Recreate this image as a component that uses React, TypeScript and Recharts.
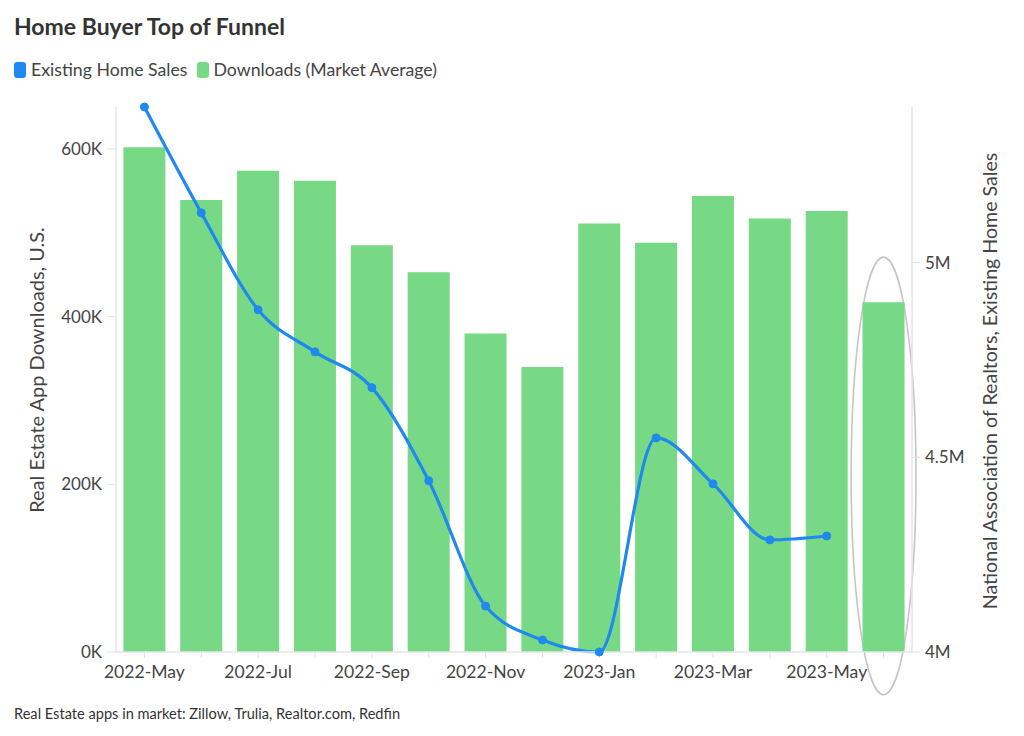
import React from 'react';
import { ComposedChart, Bar, Line, XAxis, YAxis, ReferenceArea } from 'recharts';

const months = [
  '2022-May', '2022-Jun', '2022-Jul', '2022-Aug', '2022-Sep', '2022-Oct', '2022-Nov',
  '2022-Dec', '2023-Jan', '2023-Feb', '2023-Mar', '2023-Apr', '2023-May', '2023-Jun',
];
const downloads = [602000, 539000, 574000, 562000, 485000, 453000, 380000, 340000, 511000, 488000, 544000, 517000, 526000, 417000];
const homeSales = [5400000, 5128000, 4879000, 4771000, 4679000, 4440000, 4118000, 4031000, 4000000, 4550000, 4432000, 4288000, 4298000, null];
const leftTicks = [0, 200000, 400000, 600000];
const rightTicks = [4000000, 4500000, 5000000];
const leftDomain = [0, 650000];
const rightDomain = [4000000, 5400000];
const highlightMonth = '2023-Jun';
const highlightRange = [-51000, 471000];

const data = months.map((m, i) => ({ month: m, downloads: downloads[i], sales: homeSales[i] }));

const BLUE = '#2089f0';
const GREEN = '#77d985';
const TEXT = '#444';
const FONT = 'Lato, "Open Sans", sans-serif';

const fmtK = (v: number) => `${Math.round(v / 1000)}K`;
const fmtM = (v: number) => `${+(v / 1000000).toFixed(1)}M`;

const XTick = (props: any) => {
  const { x, y, payload } = props;
  const idx = months.indexOf(payload.value);
  if (idx % 2 !== 0) return <g />;
  return (
    <text x={x} y={y} dy="0.71em" textAnchor="middle" fill={TEXT} fontSize={17.6} fontFamily={FONT}>
      {payload.value}
    </text>
  );
};

const EllipseShape = (props: any) => {
  const { x, y, width, height } = props;
  return (
    <ellipse
      cx={x + width / 2}
      cy={y + height / 2}
      rx={width / 2 + 4}
      ry={Math.abs(height) / 2}
      fill="none"
      stroke="#c6c6c6"
      strokeWidth={1.6}
    />
  );
};

const swatch = (color: string) => (
  <span style={{ display: 'inline-block', flexShrink: 0, width: 12, height: 16, borderRadius: 3, background: color, marginRight: 5 }} />
);

export default function App() {
  return (
    <div style={{ position: 'absolute', top: 0, left: 0, width: 1024, height: 736, background: '#fff', fontFamily: FONT, color: '#333' }}>
      <div style={{ position: 'absolute', left: 14, top: 12, fontSize: 23, fontWeight: 700, color: '#333', whiteSpace: 'nowrap' }}>
        Home Buyer Top of Funnel
      </div>
      <div style={{ position: 'absolute', left: 14, top: 59, display: 'flex', alignItems: 'center', fontSize: 17.7, color: '#444', whiteSpace: 'nowrap' }}>
        {swatch(BLUE)}
        <span style={{ marginRight: 9 }}>Existing Home Sales</span>
        {swatch(GREEN)}
        <span>Downloads (Market Average)</span>
      </div>
      <div style={{ position: 'absolute', left: 0, top: 0 }}>
        <ComposedChart width={1024} height={736} data={data} margin={{ top: 107, right: 12, bottom: 54, left: 16 }} barCategoryGap="13%">
          <XAxis
            dataKey="month"
            interval={0}
            height={30}
            tick={XTick}
            tickSize={6}
            tickMargin={8}
            axisLine={{ stroke: '#e6e6e6', strokeWidth: 1.5 }}
            tickLine={{ stroke: '#e0e0e0' }}
          />
          <YAxis
            yAxisId="left"
            orientation="left"
            width={100}
            domain={leftDomain}
            ticks={leftTicks}
            tickFormatter={fmtK}
            tickSize={9}
            tickMargin={5}
            axisLine={{ stroke: '#e6e6e6', strokeWidth: 1.5 }}
            tickLine={{ stroke: '#e0e0e0' }}
            tick={{ fill: TEXT, fontSize: 17, fontFamily: FONT }}
          />
          <YAxis
            yAxisId="right"
            orientation="right"
            width={100}
            domain={rightDomain}
            ticks={rightTicks}
            tickFormatter={fmtM}
            tickSize={8}
            tickMargin={5}
            axisLine={{ stroke: '#e6e6e6', strokeWidth: 1.5 }}
            tickLine={{ stroke: '#e0e0e0' }}
            tick={{ fill: TEXT, fontSize: 17, fontFamily: FONT }}
          />
          <Bar yAxisId="left" dataKey="downloads" fill={GREEN} isAnimationActive={false} />
          <Line
            yAxisId="right"
            dataKey="sales"
            type="monotone"
            stroke={BLUE}
            strokeWidth={3.2}
            dot={{ r: 4, fill: BLUE, stroke: BLUE, strokeWidth: 1 }}
            activeDot={false}
            isAnimationActive={false}
          />
          <ReferenceArea
            yAxisId="left"
            x1={highlightMonth}
            x2={highlightMonth}
            y1={highlightRange[0]}
            y2={highlightRange[1]}
            ifOverflow="visible"
            shape={EllipseShape}
          />
        </ComposedChart>
      </div>
      <div style={{ position: 'absolute', left: 36, top: 370, transform: 'translate(-50%, -50%) rotate(-90deg)', fontSize: 20, color: '#444', whiteSpace: 'nowrap' }}>
        Real Estate App Downloads, U.S.
      </div>
      <div style={{ position: 'absolute', left: 989, top: 381, transform: 'translate(-50%, -50%) rotate(-90deg)', fontSize: 19.6, color: '#444', whiteSpace: 'nowrap' }}>
        National Association of Realtors, Existing Home Sales
      </div>
      <div style={{ position: 'absolute', left: 14, top: 705, fontSize: 14.6, color: '#333', whiteSpace: 'nowrap' }}>
        Real Estate apps in market: Zillow, Trulia, Realtor.com, Redfin
      </div>
    </div>
  );
}
